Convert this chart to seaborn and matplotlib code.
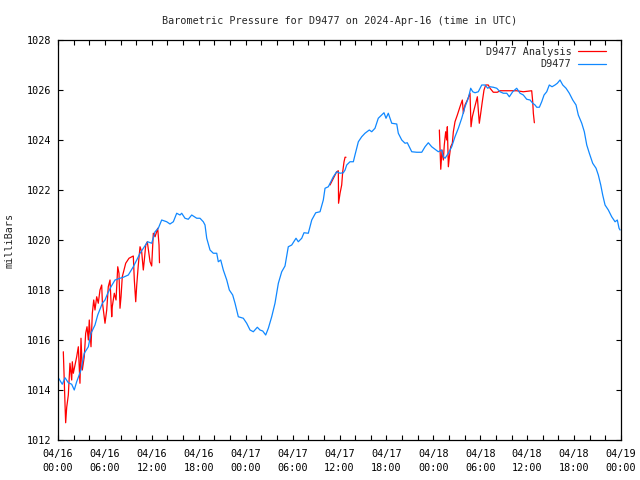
import numpy as np
import pandas as pd
import matplotlib
matplotlib.use("Agg")
import matplotlib.pyplot as plt
from matplotlib.lines import Line2D
import seaborn as sns

# ---------------- data ----------------
title = "Barometric Pressure for D9477 on 2024-Apr-16 (time in UTC)"
y_label = "milliBars"
series_names = ["D9477 Analysis", "D9477"]

# hours since 2024-04-16 00:00 UTC
obs_hours = [0.0, 0.55, 0.90, 1.32, 1.75, 2.08, 2.39, 2.94, 3.36, 3.88, 4.22, 4.73, 5.08, 5.67,
             6.01, 6.36, 6.78, 7.29, 7.93, 8.35, 8.99, 9.63, 10.07, 10.49, 10.91, 11.47, 11.98,
             12.41, 12.83, 13.26, 13.90, 14.32, 14.75, 15.18, 15.60, 15.82, 16.24, 16.66, 17.10,
             17.74, 18.16, 18.58, 18.80, 19.02, 19.44, 19.86, 20.30, 20.50, 20.81, 21.14, 21.58,
             21.91, 22.34, 22.64, 23.06, 23.70, 24.13, 24.56, 24.98, 25.49, 25.83, 26.18, 26.56,
             26.90, 27.33, 27.75, 28.18, 28.61, 29.03, 29.45, 29.89, 30.44, 30.73, 31.17, 31.46,
             32.01, 32.45, 32.96, 33.51, 33.93, 34.15, 34.57, 35.21, 35.64, 36.07, 36.49, 36.71,
             36.92, 37.34, 37.77, 37.98, 38.41, 38.84, 39.26, 39.81, 40.12, 40.54, 40.96, 41.40,
             41.69, 41.95, 42.24, 42.68, 43.32, 43.52, 43.96, 44.38, 44.67, 44.93, 45.24, 45.88,
             46.52, 46.94, 47.36, 47.79, 48.22, 48.64, 49.07, 49.28, 49.50, 49.92, 50.35, 50.77,
             51.20, 51.63, 52.05, 52.47, 52.78, 53.04, 53.33, 53.75, 54.19, 54.61, 54.96, 55.25,
             55.67, 56.11, 56.53, 56.95, 57.39, 57.72, 58.15, 58.66, 59.09, 59.51, 59.94, 60.37,
             60.71, 61.01, 61.22, 61.56, 61.86, 62.16, 62.50, 62.83, 63.18, 63.56, 63.86, 64.20,
             64.55, 64.97, 65.39, 65.83, 66.25, 66.54, 66.98, 67.31, 67.62, 67.95, 68.38, 68.81,
             69.10, 69.41, 69.66, 69.96, 70.38, 70.81, 71.24, 71.53, 71.75, 71.88]
obs_pressure = [1014.51, 1014.23, 1014.49, 1014.29, 1014.23, 1014.00, 1014.33, 1014.80, 1015.47,
                1015.73, 1016.27, 1016.60, 1017.00, 1017.47, 1017.60, 1017.87, 1018.13, 1018.40,
                1018.47, 1018.51, 1018.60, 1018.93, 1019.20, 1019.47, 1019.67, 1019.93, 1019.87,
                1020.33, 1020.47, 1020.80, 1020.73, 1020.64, 1020.73, 1021.07, 1021.00, 1021.07,
                1020.87, 1020.83, 1021.00, 1020.87, 1020.87, 1020.73, 1020.60, 1020.07, 1019.60,
                1019.47, 1019.47, 1019.13, 1019.20, 1018.80, 1018.40, 1018.00, 1017.80, 1017.47,
                1016.93, 1016.87, 1016.67, 1016.40, 1016.33, 1016.51, 1016.40, 1016.36, 1016.20,
                1016.47, 1016.93, 1017.47, 1018.27, 1018.73, 1018.96, 1019.73, 1019.80, 1020.07,
                1019.93, 1020.07, 1020.29, 1020.27, 1020.80, 1021.09, 1021.13, 1021.60, 1022.07,
                1022.13, 1022.53, 1022.73, 1022.67, 1022.69, 1022.80, 1023.00, 1023.13, 1023.13,
                1023.40, 1023.93, 1024.13, 1024.27, 1024.40, 1024.33, 1024.47, 1024.87, 1025.00,
                1025.09, 1024.87, 1025.07, 1024.67, 1024.64, 1024.27, 1024.00, 1023.87, 1023.89,
                1023.73, 1023.53, 1023.51, 1023.51, 1023.73, 1023.89, 1023.73, 1023.63, 1023.53,
                1023.60, 1023.33, 1023.27, 1023.47, 1023.73, 1024.13, 1024.47, 1024.87, 1025.33,
                1025.67, 1026.07, 1025.93, 1025.89, 1025.93, 1026.20, 1026.20, 1026.07, 1026.13,
                1026.11, 1026.07, 1025.93, 1025.87, 1025.87, 1025.73, 1025.93, 1026.07, 1025.87,
                1025.80, 1025.63, 1025.60, 1025.47, 1025.40, 1025.31, 1025.31, 1025.53, 1025.80,
                1025.93, 1026.20, 1026.13, 1026.20, 1026.27, 1026.40, 1026.20, 1026.07, 1025.87,
                1025.60, 1025.40, 1025.00, 1024.67, 1024.33, 1023.80, 1023.47, 1023.07, 1022.87,
                1022.60, 1022.20, 1021.80, 1021.40, 1021.20, 1020.93, 1020.73, 1020.80, 1020.47,
                1020.40]

# analysis series, three separate runs
ana1_hours = [0.68, 0.90, 0.98, 1.11, 1.32, 1.53, 1.75, 1.83, 1.96, 2.39, 2.60, 2.81, 2.94, 3.11,
              3.36, 3.54, 3.71, 3.88, 4.00, 4.22, 4.39, 4.57, 4.73, 4.95, 5.15, 5.37, 5.59, 5.67,
              5.88, 6.01, 6.23, 6.43, 6.65, 6.87, 6.94, 7.20, 7.42, 7.64, 7.80, 7.93, 8.06, 8.22,
              8.66, 9.08, 9.63, 9.76, 9.94, 10.07, 10.27, 10.49, 10.70, 10.91, 11.04, 11.22,
              11.42, 11.77, 11.98, 12.19, 12.41, 12.62, 12.75, 12.92, 12.98]
ana1_pressure = [1015.53, 1013.40, 1012.69, 1013.30, 1013.80, 1015.07, 1014.40, 1015.13, 1014.67,
                 1015.33, 1015.73, 1014.27, 1016.07, 1014.80, 1015.33, 1016.27, 1016.53, 1016.00,
                 1016.80, 1015.73, 1017.07, 1017.60, 1017.20, 1017.73, 1017.47, 1018.00, 1018.20,
                 1017.53, 1017.00, 1016.67, 1017.20, 1018.13, 1018.40, 1016.93, 1017.33, 1017.87,
                 1017.60, 1018.93, 1018.67, 1017.27, 1017.73, 1018.53, 1019.07, 1019.27, 1019.36,
                 1018.40, 1017.53, 1018.20, 1019.00, 1019.73, 1019.53, 1018.80, 1019.20, 1019.80,
                 1019.93, 1019.13, 1018.96, 1020.27, 1020.13, 1020.33, 1020.47, 1019.80, 1019.09]
ana2_hours = [34.79, 35.43, 35.64, 35.85, 35.88, 36.07, 36.28, 36.41, 36.58, 36.71, 36.83]
ana2_pressure = [1022.20, 1022.60, 1022.73, 1022.77, 1021.47, 1021.87, 1022.20, 1022.73, 1023.13,
                 1023.31, 1023.31]
ana3_hours = [48.77, 48.95, 49.11, 49.28, 49.40, 49.58, 49.71, 49.79, 49.92, 50.05, 50.22, 50.43,
              50.56, 50.77, 51.07, 51.41, 51.71, 51.84, 52.05, 52.35, 52.69, 52.82, 52.99, 53.20,
              53.42, 53.63, 53.75, 53.88, 54.06, 54.26, 54.48, 54.70, 55.03, 55.25, 55.67, 56.18,
              56.53, 58.66, 59.51, 60.58, 60.71, 60.79, 60.92]
ana3_pressure = [1024.40, 1022.83, 1023.60, 1023.20, 1023.80, 1024.33, 1024.00, 1024.53, 1022.93,
                 1023.33, 1023.73, 1023.87, 1024.33, 1024.73, 1025.00, 1025.33, 1025.60, 1025.07,
                 1025.40, 1025.60, 1025.87, 1024.53, 1024.93, 1025.20, 1025.47, 1025.73, 1025.20,
                 1024.67, 1025.07, 1025.53, 1026.00, 1026.20, 1026.20, 1026.07, 1025.91, 1025.91,
                 1025.97, 1025.97, 1025.93, 1025.97, 1025.53, 1025.07, 1024.69]

x_tick_hours = [0, 6, 12, 18, 24, 30, 36, 42, 48, 54, 60, 66, 72]
x_tick_labels = ["04/16\n00:00", "04/16\n06:00", "04/16\n12:00", "04/16\n18:00",
                 "04/17\n00:00", "04/17\n06:00", "04/17\n12:00", "04/17\n18:00",
                 "04/18\n00:00", "04/18\n06:00", "04/18\n12:00", "04/18\n18:00",
                 "04/19\n00:00"]
y_ticks = [1012, 1014, 1016, 1018, 1020, 1022, 1024, 1026, 1028]

# ---------------- build frames ----------------
obs_df = pd.DataFrame({"hour": obs_hours, "pressure": obs_pressure})
ana_df = pd.concat([
    pd.DataFrame({"hour": ana1_hours, "pressure": ana1_pressure, "run": 1}),
    pd.DataFrame({"hour": ana2_hours, "pressure": ana2_pressure, "run": 2}),
    pd.DataFrame({"hour": ana3_hours, "pressure": ana3_pressure, "run": 3}),
], ignore_index=True)

# ---------------- plot ----------------
sns.set_theme(style="white")
plt.rcParams["font.family"] = ["DejaVu Sans Mono", "DejaVu Sans"]
fs = 7.3
plt.rcParams["font.size"] = fs

red = "#ff0000"
blue = "#1088ff"
lw = 0.9

fig = plt.figure(figsize=(6.4, 4.8), dpi=100)
ax = fig.add_axes([58 / 640, 40 / 480, (621 - 58) / 640, 400 / 480])

sns.lineplot(data=ana_df, x="hour", y="pressure", units="run", estimator=None,
             sort=False, color=red, lw=lw, ax=ax, legend=False)
sns.lineplot(data=obs_df, x="hour", y="pressure", estimator=None, sort=False,
             color=blue, lw=lw, ax=ax, legend=False)

ax.set_xlim(0, 72)
ax.set_ylim(1012, 1028)
ax.set_xticks(x_tick_hours)
ax.set_xticklabels(x_tick_labels, linespacing=1.45)
ax.set_xticks(np.arange(0, 73, 2), minor=True)
ax.set_yticks(y_ticks)
ax.set_yticklabels([str(v) for v in y_ticks])

ax.tick_params(axis="both", which="both", direction="in", length=3.5, width=0.8,
               colors="black", top=True, right=True, bottom=True, left=True,
               labelsize=fs)
ax.tick_params(axis="x", which="major", pad=6.5)
ax.tick_params(axis="y", which="major", pad=5)
ax.tick_params(axis="y", which="minor", length=0)

for s in ax.spines.values():
    s.set_visible(True)
    s.set_color("black")
    s.set_linewidth(0.9)

ax.grid(False)
ax.set_xlabel("")
ax.set_ylabel(y_label, fontsize=fs, labelpad=9)
ax.set_title(title, fontsize=fs, pad=11.5)

handles = [Line2D([0], [0], color=red, lw=lw), Line2D([0], [0], color=blue, lw=lw)]
ax.legend(handles, series_names, loc="upper right", frameon=False, markerfirst=False,
          fontsize=fs, handlelength=2.8, handletextpad=0.6, labelspacing=0.25,
          borderaxespad=0.1, borderpad=0.55, bbox_to_anchor=(0.985, 1.0))

fig.savefig("out.png", dpi=100)
